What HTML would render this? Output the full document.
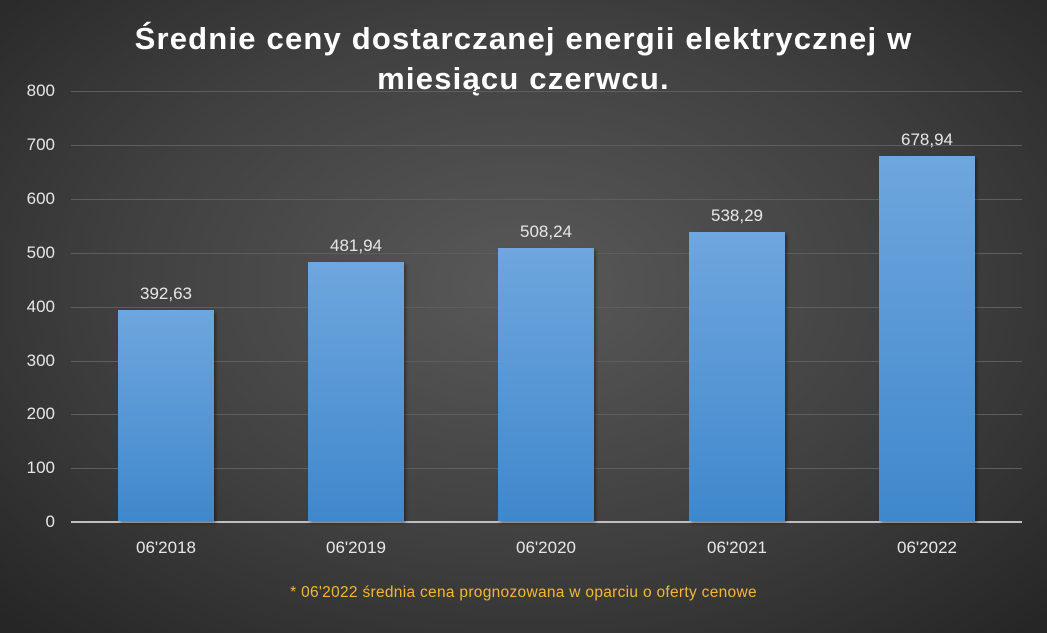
<!DOCTYPE html>
<html><head><meta charset="utf-8"><style>
html,body{margin:0;padding:0}
body{width:1047px;height:633px;overflow:hidden;background:radial-gradient(ellipse 70% 75% at 50% 45%,#595959 0%,#404040 55%,#262626 100%);font-family:"Liberation Sans",sans-serif;position:relative}
.t{position:absolute;left:0;width:1047px;text-align:center;color:#fff;font-weight:bold;font-size:31px;letter-spacing:1.2px;line-height:40px;top:19px}
.yl{position:absolute;left:0;width:55px;text-align:right;color:#e6e6e6;font-size:17px}
.g{position:absolute;left:71px;width:951px;height:1px;background:#5e5e5e}
.b{position:absolute;width:96px;background:linear-gradient(#6fa6de,#3f88cc);box-shadow:2px 2px 3px rgba(0,0,0,.4)}
.v{position:absolute;width:140px;text-align:center;color:#e6e6e6;font-size:17px}
.x{position:absolute;width:140px;text-align:center;color:#e6e6e6;font-size:17px;top:538px}
.n{position:absolute;left:0;width:1047px;text-align:center;color:#f5b733;font-size:15.5px;top:584px;letter-spacing:0.3px}
</style></head><body>
<div class="t">Średnie ceny dostarczanej energii elektrycznej w<br>miesiącu czerwcu.</div>
<div class="g" style="top:91px"></div><div class="g" style="top:145px"></div><div class="g" style="top:199px"></div><div class="g" style="top:253px"></div><div class="g" style="top:307px"></div><div class="g" style="top:361px"></div><div class="g" style="top:414px"></div><div class="g" style="top:468px"></div>
<div class="g" style="top:521px;height:2px;background:#bfbfbf"></div>
<div class="yl" style="top:81px">800</div><div class="yl" style="top:135px">700</div><div class="yl" style="top:189px">600</div><div class="yl" style="top:243px">500</div><div class="yl" style="top:297px">400</div><div class="yl" style="top:351px">300</div><div class="yl" style="top:404px">200</div><div class="yl" style="top:458px">100</div><div class="yl" style="top:512px">0</div>
<div class="b" style="left:118px;top:310px;height:211px"></div>
<div class="b" style="left:308px;top:262px;height:259px"></div>
<div class="b" style="left:498px;top:248px;height:273px"></div>
<div class="b" style="left:689px;top:232px;height:289px"></div>
<div class="b" style="left:879px;top:156px;height:365px"></div>
<div class="v" style="left:96px;top:284px">392,63</div>
<div class="v" style="left:286px;top:236px">481,94</div>
<div class="v" style="left:476px;top:222px">508,24</div>
<div class="v" style="left:667px;top:206px">538,29</div>
<div class="v" style="left:857px;top:130px">678,94</div>
<div class="x" style="left:96px">06'2018</div>
<div class="x" style="left:286px">06'2019</div>
<div class="x" style="left:476px">06'2020</div>
<div class="x" style="left:667px">06'2021</div>
<div class="x" style="left:857px">06'2022</div>
<div class="n">* 06'2022 średnia cena prognozowana w oparciu o oferty cenowe</div>
</body></html>
